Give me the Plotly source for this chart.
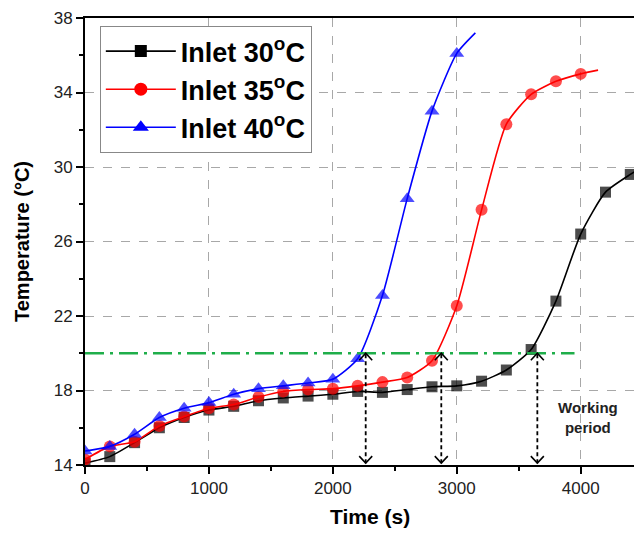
import plotly.graph_objects as go

# ---------------- data ----------------
t_marks = [0, 200, 400, 600, 800, 1000, 1200, 1400, 1600, 1800, 2000,
           2200, 2400, 2600, 2800, 3000, 3200, 3400, 3600, 3800, 4000, 4200, 4400]

temp_30 = [14.1, 14.45, 15.2, 16.0, 16.55, 16.95, 17.15, 17.45, 17.6, 17.7, 17.8,
           17.95, 17.9, 18.05, 18.2, 18.25, 18.5, 19.1, 20.2, 22.8, 26.4, 28.65, 29.6]
end_30 = (4450, 29.8)

temp_35 = [14.3, 15.0, 15.25, 16.1, 16.6, 17.05, 17.25, 17.65, 17.95, 18.05, 18.1,
           18.25, 18.45, 18.7, 19.6, 22.55, 27.7, 32.3, 33.9, 34.6, 35.0]
end_35 = (4140, 35.2)

temp_40 = [14.75, 15.0, 15.65, 16.55, 17.05, 17.35, 17.8, 18.1, 18.25, 18.4, 18.6,
           19.7, 23.1, 28.3, 33.0, 36.1]
end_40 = (3150, 37.2)

series_names = ["Inlet 30<sup>o</sup>C", "Inlet 35<sup>o</sup>C", "Inlet 40<sup>o</sup>C"]
series_colors = ["#000000", "#ff0000", "#0000ff"]
series_symbols = ["square", "circle", "triangle-up"]
series_sizes = [11, 12, 13]
legend_sizes = [12, 13, 14]

threshold = 20
threshold_end = 3950
working_end = [2265, 2875, 3650]

x_ticks = [0, 1000, 2000, 3000, 4000]
y_ticks = [14, 18, 22, 26, 30, 34, 38]

FONT = "Liberation Sans, Arial, sans-serif"

# ---------------- figure ----------------
fig = go.Figure()

for name, vals, end, col, sym, sz in zip(
        series_names, [temp_30, temp_35, temp_40], [end_30, end_35, end_40],
        series_colors, series_symbols, series_sizes):
    xs = t_marks[:len(vals)] + [end[0]]
    ys = vals + [end[1]]
    sizes = [sz] * len(vals) + [0]
    fig.add_trace(go.Scatter(
        x=xs, y=ys, name=name, mode="lines+markers", showlegend=False,
        line=dict(color=col, width=1.6, shape="spline", smoothing=0.6),
        marker=dict(symbol=sym, size=sizes, color=col, line=dict(width=0)),
    ))

# legend entries
for name, col, sym, lsz in zip(series_names, series_colors, series_symbols, legend_sizes):
    fig.add_trace(go.Scatter(
        x=[None], y=[None], name=name, mode="lines+markers", legendgroup=name,
        line=dict(color=col, width=1.6),
        marker=dict(symbol=sym, size=lsz, color=col, line=dict(width=0)),
    ))

shapes = [dict(type="line", xref="x", yref="y", x0=0, x1=threshold_end,
               y0=threshold, y1=threshold,
               line=dict(color="#1fae4a", width=2.5, dash="19px,6px,3px,6px"))]
for t in working_end:
    shapes.append(dict(type="line", xref="x", yref="y", x0=t, x1=t,
                       y0=14.1, y1=threshold,
                       line=dict(color="black", width=1.8, dash="4px,3px")))
    # up chevron at the threshold, down chevron at the bottom
    shapes.append(dict(type="path", xref="x", yref="y",
                       xsizemode="pixel", ysizemode="pixel",
                       xanchor=t, yanchor=threshold,
                       path="M -6.5,-7 L 0,0 L 6.5,-7",
                       line=dict(color="black", width=1.6)))
    shapes.append(dict(type="path", xref="x", yref="y",
                       xsizemode="pixel", ysizemode="pixel",
                       xanchor=t, yanchor=14.1,
                       path="M -6.5,7 L 0,0 L 6.5,7",
                       line=dict(color="black", width=1.6)))

annotations = [
    dict(x=4056, y=16.55, xref="x", yref="y",
         text="<b>Working<br>period</b>", showarrow=False,
         font=dict(family=FONT, size=15, color="#222222")),
    dict(x=0.519, y=-0.116, xref="paper", yref="paper",
         text="<b>Time (s)</b>", showarrow=False,
         xanchor="center", yanchor="middle",
         font=dict(family=FONT, size=21, color="black")),
]

fig.update_layout(
    width=634, height=533,
    margin=dict(l=85, r=0, t=18, b=68),
    paper_bgcolor="white", plot_bgcolor="white",
    font=dict(family=FONT, color="#222222"),
    shapes=shapes, annotations=annotations,
    showlegend=True,
    legend=dict(x=0.027, y=0.982, xanchor="left", yanchor="top",
                bgcolor="white", bordercolor="#888888", borderwidth=1,
                font=dict(family=FONT, size=27, color="black", weight="bold"),
                itemsizing="trace", itemwidth=70,
                traceorder="grouped", tracegroupgap=0),
)

fig.update_xaxes(
    range=[0, 4430], tickvals=x_ticks, ticktext=[str(v) for v in x_ticks],
    showline=True, linecolor="black", linewidth=2, mirror=True,
    ticks="outside", ticklen=7, tickwidth=1.5, tickcolor="black",
    minor=dict(dtick=500, ticks="outside", ticklen=4, tickwidth=1.5, tickcolor="black", showgrid=False),
    showgrid=True, gridcolor="#a8a8a8", griddash="dash", gridwidth=1,
    tickfont=dict(family=FONT, size=17, color="#222222"),
    zeroline=False,
)
fig.update_yaxes(
    range=[14, 38], tickvals=y_ticks, ticktext=[str(v) for v in y_ticks],
    showline=True, linecolor="black", linewidth=2, mirror=False,
    ticks="outside", ticklen=7, tickwidth=1.5, tickcolor="black",
    minor=dict(dtick=2, ticks="outside", ticklen=4, tickwidth=1.5, tickcolor="black", showgrid=False),
    showgrid=True, gridcolor="#a8a8a8", griddash="dash", gridwidth=1,
    tickfont=dict(family=FONT, size=17, color="#222222"),
    zeroline=False,
    title=dict(text="<b>Temperature (°C)</b>", standoff=19,
               font=dict(family=FONT, size=20, color="black")),
)

fig.write_html("out.html")
